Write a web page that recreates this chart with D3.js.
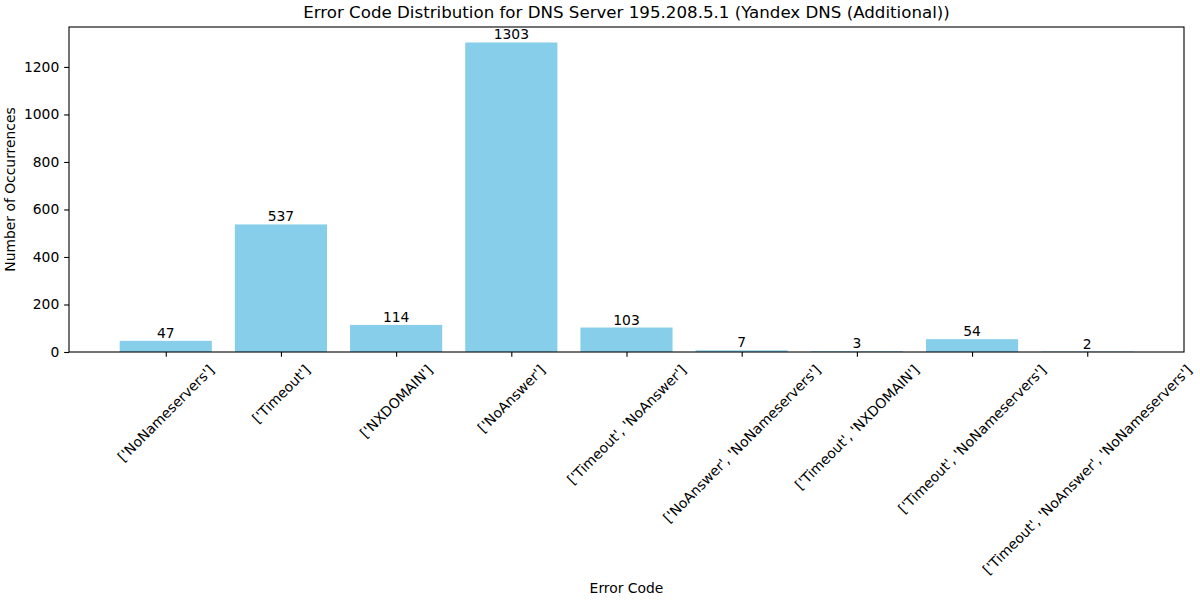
<!DOCTYPE html>
<html>
<head>
<meta charset="utf-8">
<script src="https://cdn.jsdelivr.net/npm/d3@7"></script>
<style>
  body { margin: 0; background: #fff; }
  svg text { font-family: "DejaVu Sans", sans-serif; fill: #000; }
</style>
</head>
<body>
<svg id="chart" width="1200" height="600"></svg>
<script>
const categories = [
  "['NoNameservers']",
  "['Timeout']",
  "['NXDOMAIN']",
  "['NoAnswer']",
  "['Timeout', 'NoAnswer']",
  "['NoAnswer', 'NoNameservers']",
  "['Timeout', 'NXDOMAIN']",
  "['Timeout', 'NoNameservers']",
  "['Timeout', 'NoAnswer', 'NoNameservers']"
];
const counts = [47, 537, 114, 1303, 103, 7, 3, 54, 2];
const yTicks = [0, 200, 400, 600, 800, 1000, 1200];

function renderChart() {
    const svg = d3.select("#chart");
    svg.selectAll("*").remove();

    const margin = { top: 27, right: 16, bottom: 248, left: 69 },
          width = 1200 - margin.left - margin.right,
          height = 600 - margin.top - margin.bottom;
    const fs = "13.89px";
    const tick = 4.86;

    // matplotlib-like limits: bars span -0.4..n-0.6, plus 5% margin
    const n = categories.length;
    const lo = -0.4, hi = n - 1 + 0.4, pad = (hi - lo) * 0.05;
    const x = d3.scaleLinear()
        .domain([lo - pad, hi + pad])
        .range([0, width]);

    const yMax = d3.max(counts) * 1.05;
    const y = d3.scaleLinear()
        .domain([0, yMax])
        .range([height, 0]);

    const g = svg.append("g")
        .attr("transform", `translate(${margin.left},${margin.top})`);

    g.selectAll(".bar")
        .data(counts)
        .enter().append("rect")
        .attr("class", "bar")
        .attr("x", (d, i) => x(i - 0.4))
        .attr("y", d => y(d))
        .attr("width", x(0.8) - x(0))
        .attr("height", d => height - y(d))
        .attr("fill", "skyblue");

    g.selectAll(".value")
        .data(counts)
        .enter().append("text")
        .attr("class", "value")
        .attr("x", (d, i) => x(i))
        .attr("y", d => y(d) - 3)
        .attr("text-anchor", "middle")
        .attr("font-size", fs)
        .text(d => d);

    // y axis
    const yAxis = g.append("g")
        .call(d3.axisLeft(y).tickValues(yTicks).tickFormat(d3.format("d")).tickSize(tick).tickPadding(tick));
    yAxis.selectAll("text").attr("font-size", fs).attr("font-family", "DejaVu Sans");
    yAxis.selectAll("line").attr("stroke-width", 1.1);
    yAxis.select(".domain").remove();

    // x axis
    const xAxis = g.append("g")
        .attr("transform", `translate(0,${height})`)
        .call(d3.axisBottom(x).tickValues(d3.range(n)).tickSize(tick).tickFormat(""));
    xAxis.selectAll("line").attr("stroke-width", 1.1);
    xAxis.select(".domain").remove();

    // rotated category labels, bbox centered under each tick like matplotlib
    const s = Math.SQRT1_2;
    categories.forEach((c, i) => {
        const t = g.append("text")
            .attr("font-size", fs)
            .attr("text-anchor", "middle")
            .attr("dominant-baseline", "central")
            .text(c);
        const w = t.node().getComputedTextLength();
        const h = 16;
        const bh = (w + h) * s;
        const cx = x(i), cy = height + tick + tick + bh / 2;
        t.attr("transform", `translate(${cx},${cy}) rotate(-45)`);
    });

    // frame
    g.append("rect")
        .attr("width", width)
        .attr("height", height)
        .attr("fill", "none")
        .attr("stroke", "#000")
        .attr("stroke-width", 1.1);

    // titles
    svg.append("text")
        .attr("x", margin.left + width / 2)
        .attr("y", 18)
        .attr("text-anchor", "middle")
        .attr("font-size", "16.67px")
        .text("Error Code Distribution for DNS Server 195.208.5.1 (Yandex DNS (Additional))");

    svg.append("text")
        .attr("x", margin.left + width / 2)
        .attr("y", 593)
        .attr("text-anchor", "middle")
        .attr("font-size", fs)
        .text("Error Code");

    svg.append("text")
        .attr("transform", `translate(15,${margin.top + height / 2}) rotate(-90)`)
        .attr("text-anchor", "middle")
        .attr("font-size", fs)
        .text("Number of Occurrences");
}

renderChart();
</script>
</body>
</html>
